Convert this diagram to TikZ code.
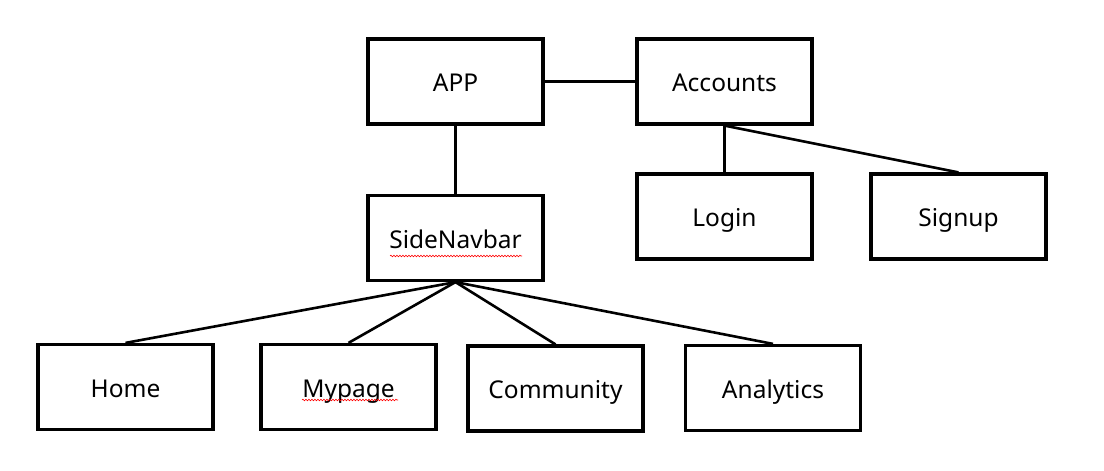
\documentclass[tikz,border=0pt]{standalone}
\usepackage{fontspec}
\setmainfont{Noto Sans}
\usetikzlibrary{decorations.pathmorphing}
\begin{document}
\begin{tikzpicture}[x=1pt,y=-1pt,
  box/.style={draw=black, line width=3.2pt, minimum width=175pt, minimum height=85pt, inner sep=0pt, text height=22pt, text depth=1.5pt, font=\fontsize{24.5}{28}\selectfont},
  link/.style={draw=black, line width=2.6pt},
  squig/.style={draw=red, line width=0.6pt, decorate, decoration={snake, amplitude=0.8pt, segment length=3pt}}]
\useasboundingbox[fill=white] (0,0) rectangle (1104,471);
\node[box] (app) at (455.5,81.5) {APP};
\node[box] (acc) at (724.5,81.5) {Accounts};
\node[box] (snb) at (455.5,238) {SideNavbar};
\node[box] (login) at (724.5,216.5) {Login};
\node[box] (signup) at (958.5,216.5) {Signup};
\node[box] (home) at (125.5,387) {Home};
\node[box] (mypage) at (348.5,387) {Mypage};
\node[box] (comm) at (555.5,388.5) {Community};
\node[box] (anal) at (773,388) {Analytics};
\draw[link] (app.east) -- (acc.west);
\draw[link] (app.south) -- (snb.north);
\draw[link] (acc.south) -- (login.north);
\draw[link] (acc.south) -- (signup.north);
\draw[link] (snb.south) -- (home.north);
\draw[link] (snb.south) -- (mypage.north);
\draw[link] (snb.south) -- (comm.north);
\draw[link] (snb.south) -- (anal.north);
\draw[squig] (390,256) -- (522,256);
\draw[squig] (302,400) -- (398,400);
\end{tikzpicture}
\end{document}
